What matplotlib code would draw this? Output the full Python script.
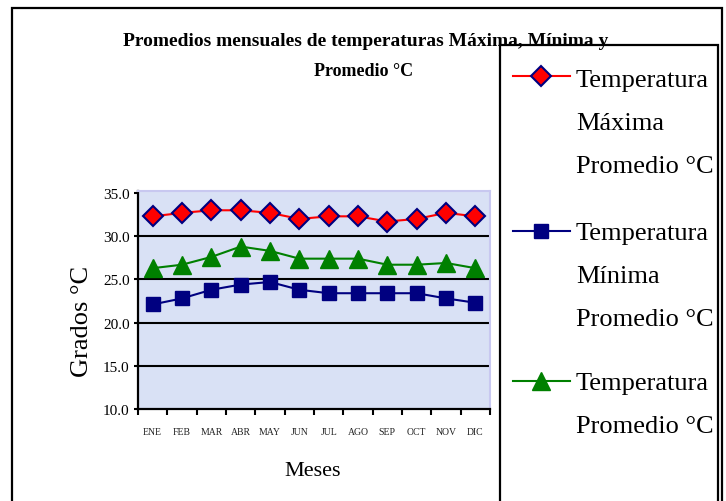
import matplotlib.pyplot as plt
from matplotlib.lines import Line2D
from matplotlib.patches import Rectangle

# Data
meses = ["ENE", "FEB", "MAR", "ABR", "MAY", "JUN", "JUL", "AGO", "SEP", "OCT", "NOV", "DIC"]
temp_max = [32.3, 32.7, 33.0, 33.0, 32.7, 32.0, 32.3, 32.3, 31.7, 32.0, 32.7, 32.3]
temp_min = [22.1, 22.8, 23.8, 24.4, 24.7, 23.8, 23.4, 23.4, 23.4, 23.4, 22.8, 22.3]
temp_prom = [26.3, 26.7, 27.6, 28.8, 28.3, 27.4, 27.4, 27.4, 26.7, 26.7, 26.9, 26.3]

labels = [["Temperatura", "Máxima", "Promedio °C"],
          ["Temperatura", "Mínima", "Promedio °C"],
          ["Temperatura", "Promedio °C"]]
yticks = [10, 15, 20, 25, 30, 35]

W, H = 726, 502
serif = "Liberation Serif"


def fx(px):
    return px / W


def fy(py):
    return 1 - py / H


fig = plt.figure(figsize=(W / 100, H / 100), dpi=100)
fig.patch.set_facecolor("white")

# Outer chart border
fig.add_artist(Rectangle((fx(12), fy(530)), fx(722) - fx(12), fy(9) - fy(530),
                         transform=fig.transFigure, fill=False, lw=1.6, ec="black"))

ax = fig.add_axes([fx(138), fy(410), fx(490) - fx(138), fy(192) - fy(410)])
ax.set_facecolor("#d9e1f5")

x = list(range(len(meses)))
l_max, = ax.plot(x, temp_max, color="red", lw=1.5, marker="D", ms=10.5,
                 mfc="red", mec="#000080", mew=1.5, zorder=5)
l_min, = ax.plot(x, temp_min, color="#000080", lw=1.5, marker="s", ms=10,
                 mfc="#000080", mec="#000080", zorder=5)
l_prom, = ax.plot(x, temp_prom, color="#008000", lw=1.5, marker="^", ms=12.5,
                  mfc="#008000", mec="#008000", zorder=5)

ax.set_xlim(-0.5, len(meses) - 0.5)
ax.set_ylim(10, 35 + 2 / 8.64)
ax.set_yticks(yticks)
ax.set_yticklabels([f"{v:.1f}" for v in yticks], fontfamily=serif, fontsize=11)
ax.set_xticks(x)
ax.set_xticklabels(meses, fontfamily=serif, fontsize=7, color="#222222")
ax.set_xticks([i - 0.5 for i in range(len(meses) + 1)], minor=True)
ax.tick_params(axis="x", which="major", length=0, pad=13)
ax.tick_params(axis="x", which="minor", length=4, width=1.5, direction="out")
ax.tick_params(axis="y", length=3, width=1.5, pad=3)

for v in yticks[1:-1]:
    ax.axhline(v, color="black", lw=1.5, zorder=2)

ax.spines["left"].set_linewidth(1.6)
ax.spines["bottom"].set_linewidth(1.6)
ax.spines["top"].set_color("#c8c8f0")
ax.spines["right"].set_color("#c8c8f0")
ax.spines["top"].set_linewidth(1.5)
ax.spines["right"].set_linewidth(1.5)

# Axis titles
fig.text(fx(82), fy(321), "Grados °C", rotation=90, ha="center", va="center",
         fontfamily=serif, fontsize=19)
fig.text(fx(313), fy(476), "Meses", ha="center", va="baseline",
         fontfamily=serif, fontsize=16)

# Chart title
fig.text(fx(366), fy(46), "Promedios mensuales de temperaturas Máxima, Mínima y",
         ha="center", va="baseline", fontfamily=serif, fontweight="bold", fontsize=14)
fig.text(fx(364), fy(76), "Promedio °C", ha="center", va="baseline",
         fontfamily=serif, fontweight="bold", fontsize=13)

# Legend box
fig.add_artist(Rectangle((fx(500), fy(530)), fx(718) - fx(500), fy(46) - fy(530),
                         transform=fig.transFigure, fill=False, lw=1.6, ec="black"))

handle_y = [77, 232, 382]
base_y = [87, 240, 390]
for line, lab, hy, by in zip([l_max, l_min, l_prom], labels, handle_y, base_y):
    h = Line2D([fx(513), fx(541), fx(570)], [fy(hy)] * 3, transform=fig.transFigure,
               color=line.get_color(), lw=line.get_linewidth(), marker=line.get_marker(),
               ms=line.get_markersize(), mfc=line.get_markerfacecolor(),
               mec=line.get_markeredgecolor(), mew=line.get_markeredgewidth(),
               markevery=[1])
    fig.add_artist(h)
    for k, txt in enumerate(lab):
        fig.text(fx(576), fy(by + 43 * k), txt, ha="left", va="baseline",
                 fontfamily=serif, fontsize=19)

plt.savefig("out.png", dpi=100)
plt.close()
